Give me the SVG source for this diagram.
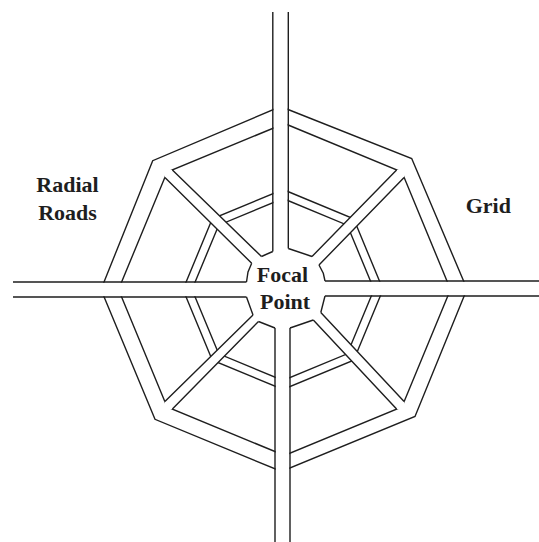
<svg xmlns="http://www.w3.org/2000/svg" width="539" height="542" viewBox="0 0 539 542">
<style>
.ln{fill:none;stroke:#1e1e1e;stroke-width:1.4;stroke-linejoin:miter}
.wh{fill:#fff;stroke:none}
.lbl{font-family:"Liberation Serif","Times New Roman",serif;font-weight:bold;font-size:22px;fill:#1e1e1e;text-anchor:middle}
</style>
<rect width="539" height="542" fill="#fff"/>
<g id="outer-ring">
<polygon class="ln" points="280.5,106.5 411.7,158.5 467,289 415,416.5 281.5,471.5 155,419.3 101,289.5 152.7,160.7"/>
<polygon class="ln" points="284.5,123.5 401.9,172.1 450.5,289.5 401.9,406.9 284.5,455.5 167.1,406.9 118.5,289.5 167.1,172.1"/>
</g>
<g id="middle-ring">
<polygon class="ln" points="283,189.5 353.7,218.8 383,289.5 353.7,360.2 283,389.5 212.3,360.2 183,289.5 212.3,218.8"/>
<polygon class="ln" points="283,198.5 347.3,225.2 374,289.5 347.3,353.8 283,380.5 218.7,353.8 192,289.5 218.7,225.2"/>
</g>
<g id="road-bodies">
<rect class="wh" x="273.5" y="0" width="14.1" height="252"/>
<rect class="wh" x="275.7" y="330" width="13.6" height="212"/>
<rect class="wh" x="0" y="282.7" width="246" height="13.6"/>
<rect class="wh" x="326" y="281.7" width="213" height="13.6"/>
<polygon class="wh" points="172.4,169.9 163.6,168.6 164.9,177.4 251.7,263.3 261.5,256.5"/>
<polygon class="wh" points="396.6,169.9 405.4,168.6 404.1,177.4 319,265 312,256.5"/>
<polygon class="wh" points="404.1,401.6 405.4,410.4 396.6,409.1 313.3,320 320.8,312.5"/>
<polygon class="wh" points="164.9,401.6 163.6,410.4 172.4,409.1 258.5,321.5 253,315"/>
</g>
<g id="roads">
<path class="ln" d="M272.8,12V251.5M288.3,12V248.5M275,328V542M290,328V542"/>
<path class="ln" d="M13,282H246.5M13,297H246.5M325,281H539M325,296H539"/>
<path class="ln" d="M172.4,169.9L261.5,256.5M164.9,177.4L251.7,263.3"/>
<path class="ln" d="M396.6,169.9L312,256.5M404.1,177.4L319,265"/>
<path class="ln" d="M404.1,401.6L320.8,312.5M396.6,409.1L313.3,320"/>
<path class="ln" d="M164.9,401.6L253,315M172.4,409.1L258.5,321.5"/>
</g>
<g id="focal-point">
<path class="ln" d="M272.8,251.5L261.5,256.5M251.7,263.3L248,272L246.5,282M246.5,297L253,315M258.5,321.5L275,328M290,328L313.3,320M320.8,312.5L325,296M325,281L323.3,273.3L319,265M312,256.5L288.3,248.5"/>
<text class="lbl" x="282.5" y="282">Focal</text>
<text class="lbl" x="285" y="308.5">Point</text>
</g>
<g id="labels">
<text class="lbl" x="67.5" y="191.5">Radial</text>
<text class="lbl" x="67.5" y="220">Roads</text>
<text class="lbl" x="488.3" y="212.7">Grid</text>
</g>
</svg>
